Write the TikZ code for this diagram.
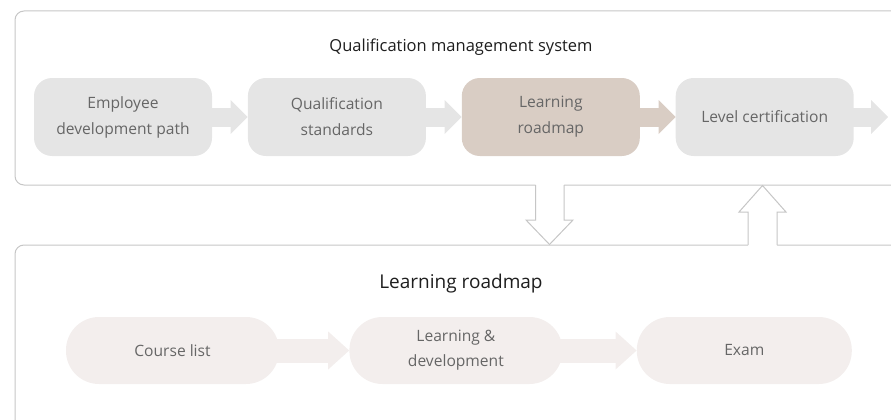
\documentclass[tikz,border=0pt]{standalone}
\usepackage{fontspec}
\setmainfont{Open Sans}
\usetikzlibrary{arrows.meta, positioning}
\definecolor{cGrey} {HTML}{E5E5E5}
\definecolor{cBrown}{HTML}{D9CDC4}
\definecolor{cPink} {HTML}{F3EEED}
\definecolor{cLine} {HTML}{C6C6C6}
\definecolor{cText} {HTML}{666666}
\definecolor{cTitle}{HTML}{1E1E1E}

\begin{document}
\begin{tikzpicture}[x=1pt, y=-1pt,
      frame/.style = {draw=cLine, line width=1pt, rounded corners=9pt},
      stage/.style = {fill=cGrey, rounded corners=18pt, minimum width=178pt, minimum height=78pt, inner sep=0pt, align=center, text=cText, font=\fontsize{15.6}{26}\selectfont},
      pill/.style  = {fill=cPink, rounded corners=33pt, minimum width=213pt, minimum height=67pt, inner sep=0pt, align=center, text=cText, font=\fontsize{15.6}{25}\selectfont},
      title/.style = {text=cTitle, inner sep=0pt},
      blk/.style   = {line width=19pt, shorten <=-4pt, -{Triangle[length=17pt, width=34pt, line width=0pt]}},
      wide/.style  = {line width=24pt, shorten <=-4pt, -{Triangle[length=21pt, width=38pt, line width=0pt]}} ]
    \useasboundingbox (0,0) rectangle (891,420);
    \clip (0,0) rectangle (891,420);

    % the two frames
    \draw[frame] (15,11) rectangle (920,185);
    \draw[frame] (15,245) rectangle (920,460);

    % hollow arrows between the frames
    \fill[white] (535.5,184) -- (535.5,220) -- (526,220) -- (549.5,244.5) -- (573,220) -- (564,220) -- (564,184) -- cycle;
    \draw[draw=cLine, line width=1pt] (535.5,185) -- (535.5,220) -- (526,220) -- (549.5,244.5) -- (573,220) -- (564,220) -- (564,185);
    \fill[white] (748,246) -- (748,212) -- (739,212) -- (762.5,185.5) -- (786,212) -- (777,212) -- (777,246) -- cycle;
    \draw[draw=cLine, line width=1pt] (748,245) -- (748,212) -- (739,212) -- (762.5,185.5) -- (786,212) -- (777,212) -- (777,245);

    \node[title, font=\fontsize{16.5}{19}\selectfont] (t1) at (461,47) {Qualification management system};
    \node[stage]                     (s1) at (123,117) {Employee\\development path};
    \node[stage, right=35.5pt of s1] (s2) {Qualification\\standards};
    \node[stage, right=35.5pt of s2, fill=cBrown] (s3) {Learning\\roadmap};
    \node[stage, right=35.5pt of s3] (s4) {Level certification};
    \coordinate (out) at (888,117);
    \draw[blk, cGrey]  (s1) -- (s2); \draw[blk, cGrey] (s2) -- (s3);
    \draw[blk, cBrown] (s3) -- (s4); \draw[blk, cGrey] (s4) -- (out);

    \node[title, font=\fontsize{19}{22}\selectfont] (t2) at (461,284) {Learning roadmap};
    \node[pill]                   (r1) at (172.5,350.5) {Course list};
    \node[pill, right=70pt of r1] (r2) {Learning \&\\development};
    \node[pill, right=74pt of r2, minimum width=215pt] (r3) {Exam};
    \draw[wide, cPink] (r1) -- (r2); \draw[wide, cPink] (r2) -- (r3);
  \end{tikzpicture}
\end{document}
